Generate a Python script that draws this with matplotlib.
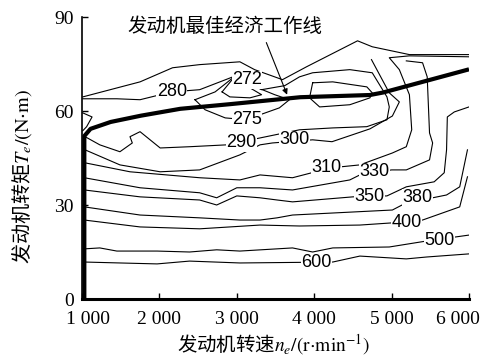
import matplotlib
matplotlib.use('Agg')
import matplotlib.pyplot as plt
import matplotlib.transforms as mtransforms

# Fuel consumption contours, g/(kW·h): engine speed (r/min) vs torque (N·m)
n_600 = [1030, 1490, 1970, 2390, 3040, 4240, 4590, 5190, 5450, 6000]
t_600 = [11.8, 11.5, 11.2, 12.1, 11.5, 11.8, 13.7, 12.8, 13.4, 14.4]

n_500 = [1030, 1230, 1450, 1970, 2390, 2740, 3040, 3720, 3980, 4240, 4970, 5450, 6000]
t_500 = [16.0, 16.3, 15.3, 15.3, 15.0, 15.7, 15.3, 16.3, 15.0, 16.3, 16.6, 18.5, 20.4]

n_400 = [1030, 1750, 2520, 3300, 3810, 4590, 5010, 5400, 5880, 5980]
t_400 = [25.2, 23.0, 22.4, 23.6, 23.3, 23.6, 24.3, 25.2, 29.4, 39.0]

n_380 = [1030, 1750, 2520, 3040, 3300, 3520, 3720, 5010, 5190, 5530, 5710, 5880, 5980]
t_380 = [29.4, 26.8, 25.9, 25.2, 25.2, 25.9, 26.8, 28.4, 30.7, 32.3, 33.2, 35.8, 47.6]

n_350 = [1030, 1750, 2520, 2740, 3000, 3300, 3520, 3720, 4500, 4940, 5190, 5550, 5680,
         5710, 5720, 5810, 6000]
t_350 = [34.8, 32.6, 31.6, 30.0, 32.9, 32.3, 31.6, 31.0, 32.6, 32.9, 35.8, 37.4, 40.3,
         47.6, 58.1, 59.7, 61.3]

n_330 = [1030, 1750, 2520, 2740, 3000, 3300, 3720, 4460, 4590, 5000, 5190, 5490, 5530,
         5490, 5460, 5400, 5190]
t_330 = [38.7, 35.5, 33.9, 32.3, 35.5, 35.5, 34.8, 38.0, 39.6, 41.2, 41.2, 44.4, 49.8,
         53.0, 70.9, 75.4, 76.0]

n_310 = [1030, 1620, 2520, 3040, 3300, 3720, 3970, 4350, 4590, 5010, 5190, 5260, 5230,
         5100, 4970, 5230, 6000]
t_310 = [43.5, 40.6, 38.7, 38.0, 39.6, 38.7, 40.3, 42.2, 42.8, 46.6, 48.6, 54.0, 65.2,
         73.2, 77.0, 77.6, 77.3]

n_300 = [1040, 1490, 2010, 2520, 3040, 3300, 3460, 3980, 4230, 4720, 5010, 5100, 4970, 4740]
t_300 = [47.6, 42.8, 40.6, 41.2, 46.0, 49.2, 49.8, 50.8, 50.2, 54.3, 58.4, 62.9, 65.8, 76.4]

n_290 = [1040, 1230, 1490, 1650, 1620, 1750, 2010, 2390, 2870, 3300, 3810, 4240, 4680,
         4940, 4970, 4940, 4750, 4460, 3980, 3810, 3620, 3320, 3100]
t_290 = [51.8, 49.2, 47.0, 49.8, 51.8, 53.4, 48.2, 48.6, 49.2, 51.4, 54.0, 54.6, 55.0,
         57.2, 61.3, 64.5, 72.2, 73.2, 72.2, 70.9, 68.1, 66.8, 70.0]

n_280 = [1010, 1450, 1750, 2160, 2520, 2950]
t_280 = [63.9, 63.9, 63.6, 66.1, 66.8, 70.9]

n_280b = [3980, 4240, 4680, 4750, 4720, 4460, 4070, 3940, 3980]
t_280b = [69.0, 69.3, 67.7, 65.8, 64.2, 62.0, 61.3, 64.2, 69.0]

n_275 = [2460, 2720, 2950, 3170, 3490, 3680, 3550, 3300, 3130, 2850, 2590, 2460]
t_275 = [63.6, 66.1, 70.6, 68.4, 65.2, 63.6, 61.0, 58.8, 57.2, 57.8, 60.4, 63.6]

n_272 = [2810, 2950, 3100, 3320, 3170, 2910, 2810]
t_272 = [66.1, 70.3, 68.4, 65.2, 64.2, 64.5, 66.1]

n_top = [1010, 1750, 2170, 2520, 3040, 3230, 3590, 3900, 4560, 4750, 5230, 6000]
t_top = [64.5, 69.3, 73.8, 74.8, 75.7, 73.2, 70.0, 74.1, 82.4, 80.5, 78.0, 78.0]

n_edge = [1010, 1130, 1060, 1010]
t_edge = [59.4, 58.1, 55.0, 53.7]

# Best fuel economy operating line
n_best = [1030, 1030, 1110, 1370, 1760, 2270, 2920, 3820, 4720, 4890, 6000]
t_best = [0, 52.0, 54.3, 56.5, 58.5, 60.7, 62.2, 64.4, 65.1, 65.9, 73.3]

# Contour value labels and where they sit
label_vals = ['280', '272', '275', '290', '300', '310', '330', '350', '380', '400', '500', '600']
label_n = [2160, 3130, 3130, 3060, 3750, 4160, 4780, 4710, 5330, 5190, 5620, 4030]
label_t = [66.1, 70.0, 57.2, 49.8, 50.8, 41.9, 40.6, 32.6, 32.3, 24.3, 18.8, 11.5]

lines = [(n_600, t_600), (n_500, t_500), (n_400, t_400), (n_380, t_380),
         (n_350, t_350), (n_330, t_330), (n_310, t_310), (n_300, t_300),
         (n_290, t_290), (n_280, t_280), (n_280b, t_280b), (n_275, t_275),
         (n_272, t_272), (n_top, t_top), (n_edge, t_edge)]

plt.rcParams['mathtext.fontset'] = 'stix'

fig = plt.figure(figsize=(4.81, 3.6), dpi=100)
ax = fig.add_axes([82 / 481, 61 / 360, 387 / 481, 282 / 360])

for n, t in lines:
    ax.plot(n, t, color='black', lw=0.8)

ax.plot(n_best, t_best, color='black', lw=3.0, solid_capstyle='butt')

for s, n, t in zip(label_vals, label_n, label_t):
    ax.text(n, t, s, ha='center', va='center', fontsize=13,
            family='Liberation Sans',
            bbox=dict(facecolor='white', edgecolor='none', pad=0.2))

ax.annotate('发动机最佳经济工作线', xy=(3650, 65.2), xytext=(2850, 86.9),
            ha='center', va='center', fontsize=14, family='Noto Sans CJK SC',
            arrowprops=dict(arrowstyle='-|>', color='black', lw=0.8,
                            mutation_scale=8, relpos=(0.7, 0.0),
                            shrinkA=2, shrinkB=0))

ax.set_xlim(1000, 6000)
ax.set_ylim(0, 90)
ax.set_xticks([1000, 2000, 3000, 4000, 5000, 6000])
ax.set_xticklabels(['1 000', '2 000', '3 000', '4 000', '5 000', '6 000'])
ax.set_yticks([0, 30, 60, 90])
ax.tick_params(direction='in', length=4, width=1, labelsize=14)
ax.tick_params(axis='x', pad=9)
ax.tick_params(axis='y', pad=6)
for lab in ax.get_xticklabels() + ax.get_yticklabels():
    lab.set_family('Liberation Serif')

# nudge the end labels so they stay inside the figure
xlabs = ax.get_xticklabels()
for lab, dx in [(xlabs[0], 6), (xlabs[-1], -11)]:
    lab.set_transform(lab.get_transform() +
                      mtransforms.ScaledTranslation(dx / 100, 0, fig.dpi_scale_trans))

ax.spines['top'].set_visible(False)
ax.spines['right'].set_visible(False)
ax.spines['bottom'].set_linewidth(2.2)
ax.spines['left'].set_linewidth(1.2)

ax.set_xlabel('发动机转速$n_e\\mathrm{/(r{\\cdot}min^{-1})}$', fontsize=14,
              family='Noto Sans CJK SC', va='center')
ax.xaxis.set_label_coords(0.494, -0.162)
ax.set_ylabel('发动机转矩$T_e\\mathrm{/(N{\\cdot}m)}$', fontsize=14.5,
              family='Noto Sans CJK SC')
ax.yaxis.set_label_coords(-0.125, 0.435)

fig.savefig('out.png', dpi=100)
